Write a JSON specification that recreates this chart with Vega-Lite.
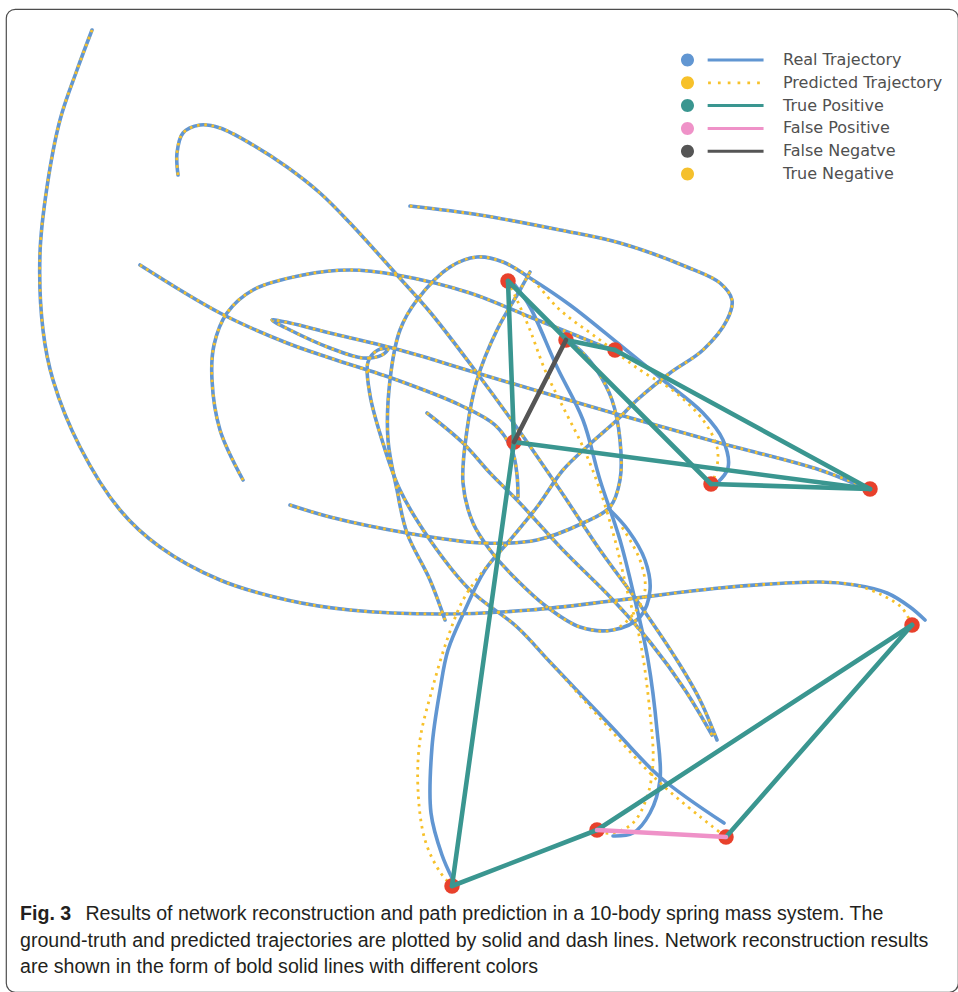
{
  "$schema": "https://vega.github.io/schema/vega-lite/v6.json",
  "width": 952,
  "height": 983,
  "autosize": {"type": "none"},
  "padding": {"left": 6, "top": 9, "right": 0, "bottom": 0},
  "background": "white",
  "config": {"view": {"stroke": "#4d4d4d", "strokeWidth": 1.2, "cornerRadius": 9}},
  "title": {
    "text": "Fig. 3",
    "subtitle": [
      "\u2800\u2800\u2800\u2800 Results of network reconstruction and path prediction in a 10-body spring mass system. The",
      "ground-truth and predicted trajectories are plotted by solid and dash lines. Network reconstruction results",
      "are shown in the form of bold solid lines with different colors"
    ],
    "orient": "bottom",
    "anchor": "start",
    "frame": "group",
    "offset": -87,
    "dx": 14,
    "baseline": "top",
    "font": "Liberation Sans",
    "fontSize": 19.6,
    "fontWeight": "bold",
    "color": "#231f20",
    "subtitleFont": "Liberation Sans",
    "subtitleFontSize": 19.6,
    "subtitleFontWeight": "normal",
    "subtitleColor": "#231f20",
    "subtitlePadding": -19.6,
    "subtitleLineHeight": 26.5,
    "limit": 2000
  },
  "datasets": {
    "traj": [
      {"c":1,"k":"b","i":0,"x":92,"y":30},{"c":1,"k":"b","i":1,"x":77,"y":70},{"c":1,"k":"b","i":2,"x":60,"y":120},{"c":1,"k":"b","i":3,"x":47,"y":187},{"c":1,"k":"b","i":4,"x":40,"y":253},{"c":1,"k":"b","i":5,"x":43,"y":330},{"c":1,"k":"b","i":6,"x":53,"y":380},{"c":1,"k":"b","i":7,"x":80,"y":447},{"c":1,"k":"b","i":8,"x":120,"y":510},{"c":1,"k":"b","i":9,"x":160,"y":547},{"c":1,"k":"b","i":10,"x":220,"y":580},{"c":1,"k":"b","i":11,"x":287,"y":600},{"c":1,"k":"b","i":12,"x":350,"y":610},{"c":1,"k":"b","i":13,"x":443,"y":614},{"c":1,"k":"b","i":14,"x":530,"y":610},{"c":1,"k":"b","i":15,"x":620,"y":600},{"c":1,"k":"b","i":16,"x":720,"y":588},{"c":1,"k":"b","i":17,"x":820,"y":582},{"c":1,"k":"b","i":18,"x":855,"y":585},
      {"c":1,"k":"r","i":19,"x":887,"y":593},{"c":1,"k":"r","i":20,"x":910,"y":607},{"c":1,"k":"r","i":21,"x":925,"y":620},
      {"c":1,"k":"p","i":19,"x":884,"y":596},{"c":1,"k":"p","i":20,"x":902,"y":608},{"c":1,"k":"p","i":21,"x":912,"y":625},

      {"c":2,"k":"b","i":0,"x":178,"y":175},{"c":2,"k":"b","i":1,"x":177,"y":153},{"c":2,"k":"b","i":2,"x":183,"y":133},{"c":2,"k":"b","i":3,"x":200,"y":125},{"c":2,"k":"b","i":4,"x":220,"y":128},{"c":2,"k":"b","i":5,"x":253,"y":145},{"c":2,"k":"b","i":6,"x":287,"y":167},{"c":2,"k":"b","i":7,"x":320,"y":193},{"c":2,"k":"b","i":8,"x":350,"y":223},{"c":2,"k":"b","i":9,"x":397,"y":275},{"c":2,"k":"b","i":10,"x":430,"y":312},{"c":2,"k":"b","i":11,"x":477,"y":373},{"c":2,"k":"b","i":12,"x":520,"y":432},{"c":2,"k":"b","i":13,"x":560,"y":490},{"c":2,"k":"b","i":14,"x":600,"y":550},{"c":2,"k":"b","i":15,"x":640,"y":605},{"c":2,"k":"b","i":16,"x":680,"y":665},{"c":2,"k":"b","i":17,"x":700,"y":700},{"c":2,"k":"b","i":18,"x":717,"y":740},

      {"c":3,"k":"b","i":0,"x":410,"y":206},{"c":3,"k":"b","i":1,"x":480,"y":215},{"c":3,"k":"b","i":2,"x":560,"y":230},{"c":3,"k":"b","i":3,"x":620,"y":243},{"c":3,"k":"b","i":4,"x":687,"y":267},{"c":3,"k":"b","i":5,"x":720,"y":283},{"c":3,"k":"b","i":6,"x":732,"y":300},{"c":3,"k":"b","i":7,"x":727,"y":320},{"c":3,"k":"b","i":8,"x":703,"y":350},{"c":3,"k":"b","i":9,"x":670,"y":373},{"c":3,"k":"b","i":10,"x":637,"y":400},{"c":3,"k":"b","i":11,"x":617,"y":420},{"c":3,"k":"b","i":12,"x":590,"y":444},{"c":3,"k":"b","i":13,"x":563,"y":470},{"c":3,"k":"b","i":14,"x":537,"y":507},{"c":3,"k":"b","i":15,"x":510,"y":540},
      {"c":3,"k":"r","i":16,"x":485,"y":570},{"c":3,"k":"r","i":17,"x":465,"y":610},{"c":3,"k":"r","i":18,"x":448,"y":650},{"c":3,"k":"r","i":19,"x":440,"y":690},{"c":3,"k":"r","i":20,"x":432,"y":747},{"c":3,"k":"r","i":21,"x":431,"y":813},{"c":3,"k":"r","i":22,"x":442,"y":855},{"c":3,"k":"r","i":23,"x":452,"y":878},
      {"c":3,"k":"p","i":16,"x":480,"y":575},{"c":3,"k":"p","i":17,"x":463,"y":600},{"c":3,"k":"p","i":18,"x":447,"y":640},{"c":3,"k":"p","i":19,"x":432,"y":690},{"c":3,"k":"p","i":20,"x":420,"y":740},{"c":3,"k":"p","i":21,"x":418,"y":790},{"c":3,"k":"p","i":22,"x":425,"y":840},{"c":3,"k":"p","i":23,"x":440,"y":872},{"c":3,"k":"p","i":24,"x":452,"y":886},

      {"c":4,"k":"b","i":0,"x":140,"y":265},{"c":4,"k":"b","i":1,"x":220,"y":313},{"c":4,"k":"b","i":2,"x":287,"y":343},{"c":4,"k":"b","i":3,"x":330,"y":358},{"c":4,"k":"b","i":4,"x":397,"y":380},{"c":4,"k":"b","i":5,"x":460,"y":405},{"c":4,"k":"b","i":6,"x":495,"y":425},{"c":4,"k":"b","i":7,"x":512,"y":450},{"c":4,"k":"b","i":8,"x":517,"y":475},{"c":4,"k":"b","i":9,"x":518,"y":497},

      {"c":5,"k":"b","i":0,"x":243,"y":480},{"c":5,"k":"b","i":1,"x":220,"y":430},{"c":5,"k":"b","i":2,"x":212,"y":380},{"c":5,"k":"b","i":3,"x":214,"y":345},{"c":5,"k":"b","i":4,"x":227,"y":313},{"c":5,"k":"b","i":5,"x":253,"y":290},{"c":5,"k":"b","i":6,"x":303,"y":275},{"c":5,"k":"b","i":7,"x":350,"y":270},{"c":5,"k":"b","i":8,"x":397,"y":275},{"c":5,"k":"b","i":9,"x":470,"y":293},{"c":5,"k":"b","i":10,"x":530,"y":317},{"c":5,"k":"b","i":11,"x":575,"y":335},{"c":5,"k":"b","i":12,"x":605,"y":347},{"c":5,"k":"b","i":13,"x":615,"y":350},

      {"c":6,"k":"b","i":0,"x":445,"y":620},{"c":6,"k":"b","i":1,"x":430,"y":580},{"c":6,"k":"b","i":2,"x":407,"y":533},{"c":6,"k":"b","i":3,"x":397,"y":490},{"c":6,"k":"b","i":4,"x":388,"y":440},{"c":6,"k":"b","i":5,"x":390,"y":380},{"c":6,"k":"b","i":6,"x":400,"y":330},{"c":6,"k":"b","i":7,"x":417,"y":300},{"c":6,"k":"b","i":8,"x":450,"y":267},{"c":6,"k":"b","i":9,"x":477,"y":257},{"c":6,"k":"b","i":10,"x":503,"y":262},{"c":6,"k":"b","i":11,"x":530,"y":278},
      {"c":6,"k":"r","i":12,"x":570,"y":305},{"c":6,"k":"r","i":13,"x":620,"y":345},{"c":6,"k":"r","i":14,"x":663,"y":380},{"c":6,"k":"r","i":15,"x":703,"y":413},{"c":6,"k":"r","i":16,"x":723,"y":440},{"c":6,"k":"r","i":17,"x":728,"y":468},{"c":6,"k":"r","i":18,"x":717,"y":483},
      {"c":6,"k":"p","i":12,"x":560,"y":310},{"c":6,"k":"p","i":13,"x":600,"y":340},{"c":6,"k":"p","i":14,"x":640,"y":370},{"c":6,"k":"p","i":15,"x":675,"y":392},{"c":6,"k":"p","i":16,"x":703,"y":420},{"c":6,"k":"p","i":17,"x":717,"y":447},{"c":6,"k":"p","i":18,"x":717,"y":467},{"c":6,"k":"p","i":19,"x":712,"y":484},

      {"c":8,"k":"b","i":0,"x":530,"y":272},{"c":8,"k":"b","i":1,"x":520,"y":290},{"c":8,"k":"b","i":2,"x":497,"y":330},{"c":8,"k":"b","i":3,"x":477,"y":380},{"c":8,"k":"b","i":4,"x":467,"y":430},{"c":8,"k":"b","i":5,"x":463,"y":483},{"c":8,"k":"b","i":6,"x":473,"y":523},{"c":8,"k":"b","i":7,"x":490,"y":550},{"c":8,"k":"b","i":8,"x":517,"y":580},{"c":8,"k":"b","i":9,"x":547,"y":607},{"c":8,"k":"b","i":10,"x":580,"y":627},{"c":8,"k":"b","i":11,"x":613,"y":630},
      {"c":8,"k":"r","i":12,"x":640,"y":617},{"c":8,"k":"r","i":13,"x":650,"y":590},{"c":8,"k":"r","i":14,"x":645,"y":560},{"c":8,"k":"r","i":15,"x":628,"y":530},{"c":8,"k":"r","i":16,"x":610,"y":510},
      {"c":8,"k":"p","i":12,"x":635,"y":612},{"c":8,"k":"p","i":13,"x":645,"y":590},{"c":8,"k":"p","i":14,"x":640,"y":560},{"c":8,"k":"p","i":15,"x":622,"y":527},

      {"c":9,"k":"b","i":0,"x":290,"y":505},{"c":9,"k":"b","i":1,"x":330,"y":517},{"c":9,"k":"b","i":2,"x":407,"y":533},{"c":9,"k":"b","i":3,"x":483,"y":543},{"c":9,"k":"b","i":4,"x":537,"y":540},{"c":9,"k":"b","i":5,"x":583,"y":523},{"c":9,"k":"b","i":6,"x":610,"y":507},{"c":9,"k":"b","i":7,"x":620,"y":480},{"c":9,"k":"b","i":8,"x":620,"y":440},{"c":9,"k":"b","i":9,"x":612,"y":400},{"c":9,"k":"b","i":10,"x":598,"y":372},{"c":9,"k":"b","i":11,"x":580,"y":350},{"c":9,"k":"b","i":12,"x":566,"y":340},

      {"c":10,"k":"b","i":0,"x":427,"y":413},{"c":10,"k":"b","i":1,"x":463,"y":443},{"c":10,"k":"b","i":2,"x":490,"y":473},{"c":10,"k":"b","i":3,"x":517,"y":500},{"c":10,"k":"b","i":4,"x":563,"y":550},{"c":10,"k":"b","i":5,"x":613,"y":600},{"c":10,"k":"b","i":6,"x":650,"y":642},{"c":10,"k":"b","i":7,"x":685,"y":690},{"c":10,"k":"b","i":8,"x":712,"y":735},

      {"c":11,"k":"r","i":0,"x":860,"y":486},{"c":11,"k":"p","i":0,"x":870,"y":489},
      {"c":11,"k":"b","i":1,"x":820,"y":470},{"c":11,"k":"b","i":2,"x":720,"y":443},{"c":11,"k":"b","i":3,"x":613,"y":413},{"c":11,"k":"b","i":4,"x":477,"y":373},{"c":11,"k":"b","i":5,"x":400,"y":350},{"c":11,"k":"b","i":6,"x":330,"y":333},{"c":11,"k":"b","i":7,"x":290,"y":323},{"c":11,"k":"b","i":8,"x":272,"y":320},{"c":11,"k":"b","i":9,"x":290,"y":330},{"c":11,"k":"b","i":10,"x":330,"y":348},{"c":11,"k":"b","i":11,"x":363,"y":358},{"c":11,"k":"b","i":12,"x":382,"y":355},{"c":11,"k":"b","i":13,"x":388,"y":349},{"c":11,"k":"b","i":14,"x":378,"y":350},{"c":11,"k":"b","i":15,"x":368,"y":362},{"c":11,"k":"b","i":16,"x":370,"y":395},{"c":11,"k":"b","i":17,"x":382,"y":440},{"c":11,"k":"b","i":18,"x":400,"y":490},{"c":11,"k":"b","i":19,"x":430,"y":540},{"c":11,"k":"b","i":20,"x":470,"y":590},{"c":11,"k":"b","i":21,"x":517,"y":627},{"c":11,"k":"b","i":22,"x":550,"y":662},
      {"c":11,"k":"r","i":23,"x":610,"y":725},{"c":11,"k":"r","i":24,"x":660,"y":777},{"c":11,"k":"r","i":25,"x":724,"y":823},
      {"c":11,"k":"p","i":23,"x":600,"y":718},{"c":11,"k":"p","i":24,"x":657,"y":780},{"c":11,"k":"p","i":25,"x":713,"y":827},{"c":11,"k":"p","i":26,"x":726,"y":837},

      {"c":12,"k":"p","i":0,"x":508,"y":281},{"c":12,"k":"p","i":1,"x":517,"y":300},{"c":12,"k":"p","i":2,"x":530,"y":330},{"c":12,"k":"p","i":3,"x":545,"y":370},{"c":12,"k":"p","i":4,"x":563,"y":407},{"c":12,"k":"p","i":5,"x":583,"y":447},{"c":12,"k":"p","i":6,"x":600,"y":490},{"c":12,"k":"p","i":7,"x":615,"y":540},{"c":12,"k":"p","i":8,"x":627,"y":590},{"c":12,"k":"p","i":9,"x":640,"y":640},{"c":12,"k":"p","i":10,"x":650,"y":713},{"c":12,"k":"p","i":11,"x":653,"y":763},{"c":12,"k":"p","i":12,"x":647,"y":797},{"c":12,"k":"p","i":13,"x":633,"y":823},{"c":12,"k":"p","i":14,"x":613,"y":833},{"c":12,"k":"p","i":15,"x":597,"y":832},
      {"c":12,"k":"r","i":0,"x":515,"y":285},{"c":12,"k":"r","i":1,"x":530,"y":307},{"c":12,"k":"r","i":2,"x":557,"y":367},{"c":12,"k":"r","i":3,"x":583,"y":420},{"c":12,"k":"r","i":4,"x":600,"y":480},{"c":12,"k":"r","i":5,"x":620,"y":540},{"c":12,"k":"r","i":6,"x":635,"y":600},{"c":12,"k":"r","i":7,"x":648,"y":660},{"c":12,"k":"r","i":8,"x":657,"y":730},{"c":12,"k":"r","i":9,"x":660,"y":780},{"c":12,"k":"r","i":10,"x":650,"y":813},{"c":12,"k":"r","i":11,"x":633,"y":833},{"c":12,"k":"r","i":12,"x":613,"y":836}
    ],
    "nodes": [
      {"n":"R1","x":508,"y":281},{"n":"R2","x":566,"y":340},{"n":"R3","x":615,"y":350},{"n":"R4","x":514,"y":442},{"n":"R5","x":711,"y":484},
      {"n":"R6","x":870,"y":489},{"n":"R7","x":912,"y":625},{"n":"R8","x":597,"y":830},{"n":"R9","x":726,"y":837},{"n":"R10","x":452,"y":886}
    ],
    "edges": [
      {"t":"True Positive","x":508,"y":281,"x2":514,"y2":442},
      {"t":"True Positive","x":514,"y":442,"x2":452,"y2":886},
      {"t":"True Positive","x":508,"y":281,"x2":711,"y2":484},
      {"t":"True Positive","x":566,"y":340,"x2":615,"y2":350},
      {"t":"True Positive","x":615,"y":350,"x2":870,"y2":489},
      {"t":"True Positive","x":514,"y":442,"x2":870,"y2":489},
      {"t":"True Positive","x":711,"y":484,"x2":870,"y2":489},
      {"t":"True Positive","x":452,"y":886,"x2":597,"y2":830},
      {"t":"True Positive","x":597,"y":830,"x2":912,"y2":625},
      {"t":"True Positive","x":726,"y":837,"x2":912,"y2":625},
      {"t":"False Negatve","x":566,"y":340,"x2":514,"y2":442},
      {"t":"False Positive","x":597,"y":830,"x2":726,"y2":837}
    ]
  },
  "layer": [
    {
      "data": {"name": "traj"},
      "transform": [{"filter": "datum.k != 'p'"}, {"calculate": "'Real Trajectory'", "as": "t"}],
      "mark": {"type": "line", "interpolate": "catmull-rom", "strokeWidth": 3.6, "strokeCap": "round"},
      "encoding": {
        "x": {"field": "x", "type": "quantitative", "scale": {"domain": [6, 958], "nice": false, "zero": false}, "axis": null},
        "y": {"field": "y", "type": "quantitative", "scale": {"domain": [9, 992], "nice": false, "zero": false, "reverse": true}, "axis": null},
        "detail": {"field": "c"},
        "order": {"field": "i", "type": "quantitative"},
        "color": {
          "field": "t", "type": "nominal",
          "scale": {
            "domain": ["Real Trajectory", "Predicted Trajectory", "True Positive", "False Positive", "False Negatve", "True Negative"],
            "range": ["#6196d2", "#f7c12a", "#3a9690", "#ef92c8", "#555555", "#f5c02c"]
          },
          "legend": {
            "title": null,
            "orient": "none",
            "legendX": 673.5,
            "legendY": 43,
            "padding": 0,
            "offset": 0,
            "symbolSize": 169,
            "symbolStrokeWidth": 0,
            "symbolType": "circle",
            "labelFont": "DejaVu Sans",
            "labelFontSize": 16,
            "labelColor": "#505050",
            "labelOffset": 87.5,
            "labelLimit": 400,
            "rowPadding": 6.8,
            "encode": {
              "symbols": {
                "update": {
                  "shape": {"signal": "datum.value === 'Predicted Trajectory' ? 'M-1,0A1,1,0,1,0,1,0A1,1,0,1,0,-1,0ZM3.17,-0.21h0.42v0.42h-0.42zM4.68,-0.21h0.42v0.42h-0.42zM6.19,-0.21h0.42v0.42h-0.42zM7.7,-0.21h0.42v0.42h-0.42zM9.21,-0.21h0.42v0.42h-0.42zM10.71,-0.21h0.42v0.42h-0.42z' : (datum.value === 'True Negative' ? 'M-1,0A1,1,0,1,0,1,0A1,1,0,1,0,-1,0Z' : 'M-1,0A1,1,0,1,0,1,0A1,1,0,1,0,-1,0ZM3.1,-0.23H11.7V0.23H3.1Z')"},
                  "fill": {"scale": "color", "field": "value"},
                  "stroke": {"value": "transparent"},
                  "opacity": {"value": 1},
                  "fillOpacity": {"value": 1}
                }
              }
            }
          }
        }
      }
    },
    {
      "data": {"name": "traj"},
      "transform": [{"filter": "datum.k != 'r'"}, {"calculate": "'Predicted Trajectory'", "as": "t"}],
      "mark": {"type": "line", "interpolate": "catmull-rom", "strokeWidth": 2.8, "strokeDash": [2.6, 4.8]},
      "encoding": {
        "x": {"field": "x", "type": "quantitative", "scale": {"domain": [6, 958], "nice": false, "zero": false}, "axis": null},
        "y": {"field": "y", "type": "quantitative", "scale": {"domain": [9, 992], "nice": false, "zero": false, "reverse": true}, "axis": null},
        "detail": {"field": "c"},
        "order": {"field": "i", "type": "quantitative"},
        "color": {"field": "t", "type": "nominal"}
      }
    },
    {
      "data": {"name": "nodes"},
      "mark": {"type": "circle", "size": 240, "opacity": 1, "color": "#e8412c"},
      "encoding": {
        "x": {"field": "x", "type": "quantitative", "axis": null},
        "y": {"field": "y", "type": "quantitative", "axis": null}
      }
    },
    {
      "data": {"name": "edges"},
      "mark": {"type": "rule", "strokeWidth": 4.6, "strokeCap": "round"},
      "encoding": {
        "x": {"field": "x", "type": "quantitative", "axis": null},
        "y": {"field": "y", "type": "quantitative", "axis": null},
        "x2": {"field": "x2"},
        "y2": {"field": "y2"},
        "color": {"field": "t", "type": "nominal"}
      }
    }
  ]
}
